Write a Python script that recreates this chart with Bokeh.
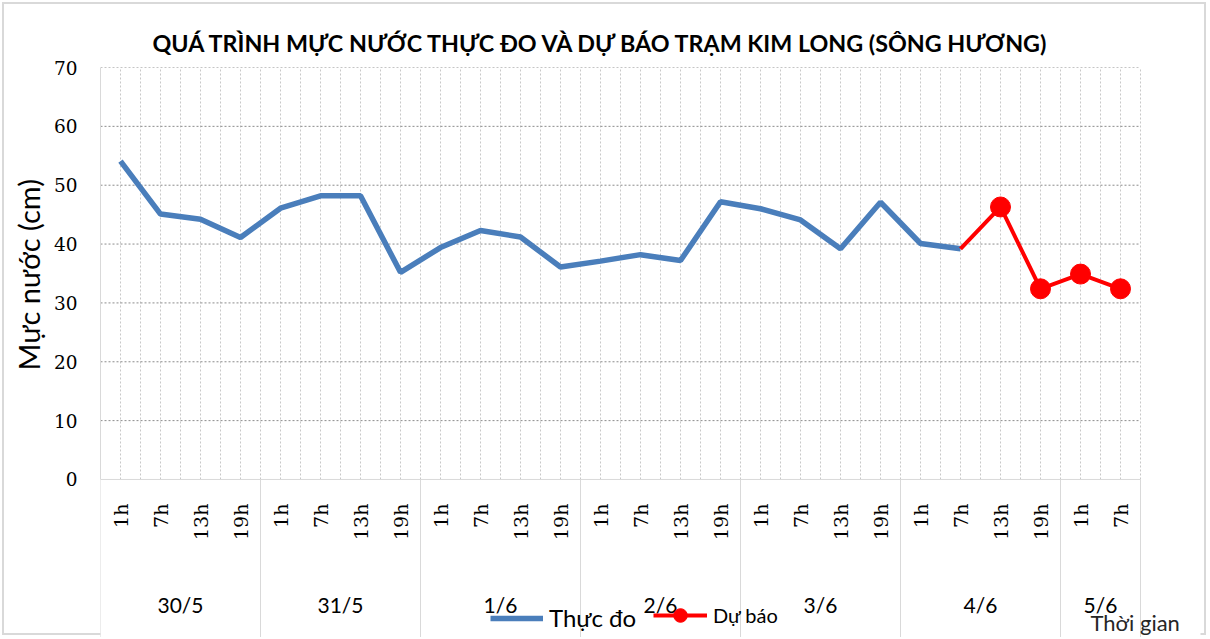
from math import pi
from bokeh.plotting import figure
from bokeh.models import (Range1d, LinearAxis, FixedTicker, Legend, LegendItem, Label, Title)
from bokeh.core.properties import value
from bokeh.embed import file_html
from bokeh.resources import INLINE

title_text = "QUÁ TRÌNH MỰC NƯỚC THỰC ĐO VÀ DỰ BÁO TRẠM KIM LONG (SÔNG HƯƠNG)"
y_label = "Mực nước (cm)"
x_label = "Thời gian"
dates = ["30/5", "31/5", "1/6", "2/6", "3/6", "4/6", "5/6"]
hours_by_date = [["1h", "7h", "13h", "19h"]] * 6 + [["1h", "7h"]]
observed = [54.1, 45.1, 44.2, 41.1, 46.1, 48.2, 48.2, 35.2, 39.4, 42.3, 41.2, 36.1,
            37.1, 38.2, 37.2, 47.2, 46.0, 44.1, 39.2, 47.1, 40.1, 39.2]
forecast = [39.2, 46.3, 32.4, 34.9, 32.4]
y_ticks = [0, 10, 20, 30, 40, 50, 60, 70]
series_names = ["Thực đo", "Dự báo"]

# category slots: one unit per (day, hour), points at the slot centres
hour_text = [h for hs in hours_by_date for h in hs]
n_cat = len(hour_text)
x_pos = [i + 0.5 for i in range(n_cat)]
n_obs = len(observed)
obs_x = x_pos[:n_obs]
fc_x = x_pos[n_obs - 1:n_obs - 1 + len(forecast)]

bounds = [0]
for hs in hours_by_date:
    bounds.append(bounds[-1] + len(hs))
date_centres = [(a + b) / 2 for a, b in zip(bounds[:-1], bounds[1:])]
half_steps = [k / 2 for k in range(1, 2 * n_cat + 1)]

# the frame also holds the category-label band below y = 0 and room for "Thời gian"
y_bottom = -26.85
x_right = n_cat + 1.5
p = figure(x_range=Range1d(0, x_right), y_range=Range1d(y_bottom, y_ticks[-1]),
           frame_width=1100, frame_height=570,
           min_border_left=100, min_border_right=8, min_border_top=67, min_border_bottom=0,
           output_backend="svg", toolbar_location=None,
           x_axis_location=None, y_axis_location=None, title=title_text)
p.outline_line_color = None
p.border_fill_color = None
p.xgrid.visible = False
p.ygrid.visible = False
p.styles = {"outline": "2px solid #d9d9d9", "outline-offset": "-4px"}

p.title.text_font = "Lato"
p.title.text_font_style = "bold"
p.title.text_font_size = "23.3px"
p.title.align = "left"
p.title.offset = 52
p.title.standoff = 21
p.title.text_color = "#000000"

yaxis = LinearAxis(ticker=FixedTicker(ticks=y_ticks), bounds=(y_ticks[0], y_ticks[-1]))
yaxis.axis_line_color = "#d9d9d9"
yaxis.major_tick_out = 0
yaxis.major_tick_in = 0
yaxis.minor_tick_out = 0
yaxis.minor_tick_in = 0
yaxis.major_label_standoff = 23
yaxis.major_label_text_font = "DejaVu Serif"
yaxis.major_label_text_font_size = "18.5px"
yaxis.major_label_text_color = "#000000"
p.add_layout(yaxis, "left")

# y-axis title, centred on the 0-70 part of the frame
p.add_layout(Title(text=y_label, align="left", offset=267, standoff=9,
                   text_font="Lato", text_font_size="29px", text_font_style="normal",
                   text_color="#000000"), "left")

# gridlines of the plot area
p.segment(x0=half_steps, y0=y_ticks[0], x1=half_steps, y1=y_ticks[-1],
          line_color="#c8c8c8", line_dash="2 2", line_width=1)
p.segment(x0=bounds[0], y0=y_ticks[1:], x1=bounds[-1], y1=y_ticks[1:],
          line_color="#8c8c8c", line_dash="2 2", line_width=1)
p.segment(x0=bounds[0], y0=y_ticks[0], x1=bounds[-1], y1=y_ticks[0],
          line_color="#d9d9d9", line_width=1)

# category axis band: hours, days and day separators
p.segment(x0=bounds, y0=y_ticks[0], x1=bounds, y1=y_bottom, line_color="#d9d9d9", line_width=1)
p.text(x=x_pos, y=-4.1, text=hour_text, angle=pi / 2, text_align="right",
       text_baseline="middle", text_font=value("DejaVu Serif"), text_font_size="19px",
       text_color="#000000")
p.text(x=date_centres, y=-21.2, text=dates, text_align="center", text_baseline="middle",
       text_font=value("Lato"), text_font_size="21px", text_color="#000000")

blue = p.line(x=obs_x, y=observed, line_color="#4A7EBB", line_width=5.5)
red = p.line(x=fc_x, y=forecast, line_color="#FF0000", line_width=4)
red_pts = p.scatter(x=fc_x[1:], y=forecast[1:], size=20, color="#FF0000")

leg1 = Legend(items=[LegendItem(label=series_names[0], renderers=[blue])],
              location=(390, 5), orientation="horizontal",
              padding=0, margin=0, spacing=0, glyph_width=53, glyph_height=20,
              label_standoff=6, border_line_color=None, background_fill_alpha=0,
              label_text_font="Lato", label_text_font_size="24px", label_text_color="#000000")
leg2 = Legend(items=[LegendItem(label=series_names[1], renderers=[red, red_pts])],
              location=(553, 5), orientation="horizontal",
              padding=0, margin=0, spacing=0, glyph_width=54, glyph_height=34,
              label_standoff=6, border_line_color=None, background_fill_alpha=0,
              label_text_font="Lato", label_text_font_size="20px", label_text_color="#000000")
p.add_layout(leg1)
p.add_layout(leg2)

p.add_layout(Label(x=990, y=15, x_units="screen", y_units="screen", text=x_label,
                   text_font="Lato", text_font_size="22px", text_color="#262626",
                   text_baseline="alphabetic"))

open("out.html", "w").write(file_html(p, INLINE))
